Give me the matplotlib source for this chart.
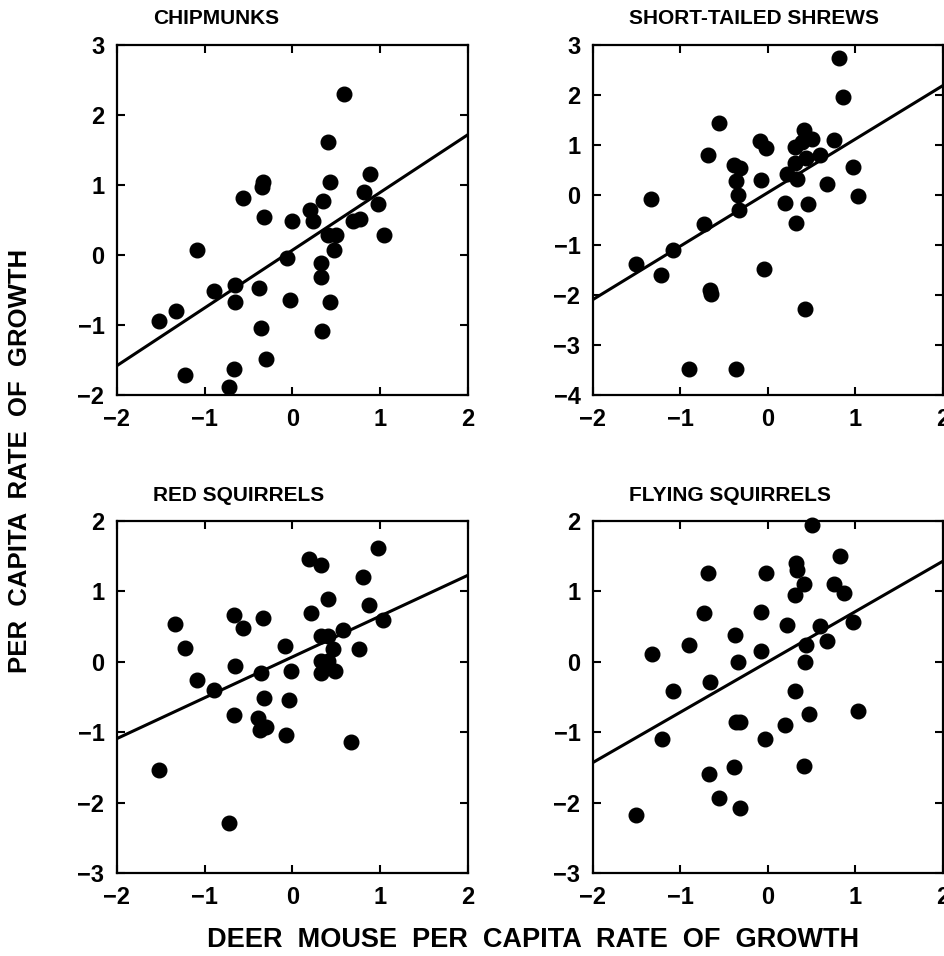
import numpy as np
import matplotlib.pyplot as plt

plt.rcParams['font.family'] = ['Liberation Sans', 'DejaVu Sans']
plt.rcParams['font.weight'] = 'bold'

# deer mouse growth (x) vs. other species growth (y)
chip_x = [-1.52, -1.33, -1.22, -1.09, -0.90, -0.72, -0.67, -0.66, -0.66, -0.56, -0.38, -0.36, -0.34,
          -0.35, -0.32, -0.30, -0.06, -0.03, -0.01, 0.20, 0.23, 0.35, 0.32, 0.32, 0.34, 0.41, 0.43,
          0.43, 0.41, 0.50, 0.47, 0.59, 0.69, 0.77, 0.81, 0.88, 0.97, 1.04]
chip_y = [-0.94, -0.80, -1.71, 0.07, -0.51, -1.88, -1.63, -0.43, -0.67, 0.82, -0.47, -1.04, 1.04,
          0.97, 0.54, -1.48, -0.04, -0.64, 0.48, 0.65, 0.48, 0.77, -0.12, -0.31, -1.09, 1.62, 1.04,
          -0.67, 0.29, 0.29, 0.07, 2.30, 0.49, 0.52, 0.90, 1.16, 0.73, 0.29]

shrew_x = [-1.51, -1.34, -1.22, -1.09, -0.90, -0.73, -0.68, -0.66, -0.65, -0.56, -0.39, -0.32, -0.36,
           -0.34, -0.33, -0.37, -0.09, -0.02, -0.08, -0.05, 0.20, 0.22, 0.31, 0.31, 0.33, 0.32,
           0.41, 0.39, 0.50, 0.43, 0.46, 0.42, 0.59, 0.68, 0.76, 0.81, 0.86, 0.97, 1.03]
shrew_y = [-1.37, -0.07, -1.60, -1.10, -3.47, -0.57, 0.80, -1.89, -1.98, 1.45, 0.61, 0.55, 0.29,
           0.00, -0.30, -3.47, 1.09, 0.95, 0.30, -1.47, -0.15, 0.42, 0.97, 0.65, 0.33, -0.55,
           1.30, 1.07, 1.12, 0.75, -0.18, -2.27, 0.80, 0.23, 1.11, 2.75, 1.97, 0.57, -0.02]

red_x = [-1.52, -1.34, -1.22, -1.09, -0.90, -0.72, -0.67, -0.66, -0.67, -0.56, -0.34, -0.36, -0.33,
         -0.39, -0.37, -0.30, -0.08, -0.02, -0.04, -0.07, 0.19, 0.33, 0.21, 0.32, 0.41, 0.40, 0.32,
         0.41, 0.32, 0.49, 0.46, 0.58, 0.67, 0.76, 0.80, 0.87, 0.97, 1.03]
red_y = [-1.53, 0.53, 0.19, -0.26, -0.40, -2.29, 0.66, -0.06, -0.75, 0.48, 0.62, -0.16, -0.51,
         -0.80, -0.97, -0.93, 0.22, -0.13, -0.54, -1.04, 1.46, 1.38, 0.70, 0.36, 0.36, 0.89, 0.01,
         0.01, -0.16, -0.13, 0.18, 0.45, -1.14, 0.18, 1.20, 0.81, 1.61, 0.60]

fly_x = [-1.51, -1.33, -1.21, -1.09, -0.90, -0.73, -0.68, -0.66, -0.67, -0.56, -0.38, -0.34, -0.36,
         -0.32, -0.39, -0.32, -0.02, -0.08, -0.08, -0.03, 0.22, 0.20, 0.32, 0.33, 0.31, 0.41, 0.43,
         0.42, 0.31, 0.47, 0.41, 0.50, 0.59, 0.67, 0.76, 0.82, 0.87, 0.97, 1.03]
fly_y = [-2.18, 0.11, -1.10, -0.41, 0.24, 0.70, 1.26, -0.28, -1.60, -1.94, 0.38, 0.00, -0.85,
         -0.85, -1.50, -2.07, 1.26, 0.71, 0.15, -1.10, 0.52, -0.90, 1.40, 1.31, 0.95, 1.11, 0.24,
         0.00, -0.41, -0.74, -1.48, 1.94, 0.51, 0.30, 1.11, 1.50, 0.98, 0.57, -0.70]

titles = ['CHIPMUNKS', 'SHORT-TAILED SHREWS', 'RED SQUIRRELS', 'FLYING SQUIRRELS']
xs = [chip_x, shrew_x, red_x, fly_x]
ys = [chip_y, shrew_y, red_y, fly_y]
slopes = [0.825, 1.07, 0.58, 0.715]
intercepts = [0.07, 0.05, 0.07, 0.0]
ylims = [(-2, 3), (-4, 3), (-3, 2), (-3, 2)]

fig = plt.figure(figsize=(9.45, 9.56), dpi=100)
W, H = 945, 956
boxes = [(117, 45, 468, 395), (593, 45, 943, 395),
         (117, 521, 468, 873), (593, 521, 943, 873)]

for i in range(4):
    l, t, r, b = boxes[i]
    ax = fig.add_axes([l / W, 1 - b / H, (r - l) / W, (b - t) / H])
    ax.plot(xs[i], ys[i], 'o', color='black', markersize=10.5, clip_on=False, zorder=3)
    lx = np.array([-2, 2])
    ax.plot(lx, slopes[i] * lx + intercepts[i], color='black', lw=2.2)
    ax.set_xlim(-2, 2)
    ax.set_ylim(*ylims[i])
    ax.set_xticks(np.arange(-2, 3))
    ax.set_yticks(np.arange(ylims[i][0], ylims[i][1] + 1))
    ax.tick_params(direction='in', top=True, right=True, length=6, width=1.5,
                   labelsize=17, pad=9)
    for s in ax.spines.values():
        s.set_linewidth(1.6)
    fig.text((l + 36) / W, 1 - (t - 26) / H, titles[i], fontsize=15,
             fontweight='bold', ha='left', va='center')

fig.text(533 / W, 1 - 940 / H, 'DEER  MOUSE  PER  CAPITA  RATE  OF  GROWTH',
         fontsize=19.5, fontweight='bold', ha='center', va='center')
fig.text(20 / W, 1 - 461 / H, 'PER  CAPITA  RATE  OF  GROWTH', rotation=90,
         fontsize=18.5, fontweight='bold', ha='center', va='center')

fig.savefig('out.png', dpi=100)
